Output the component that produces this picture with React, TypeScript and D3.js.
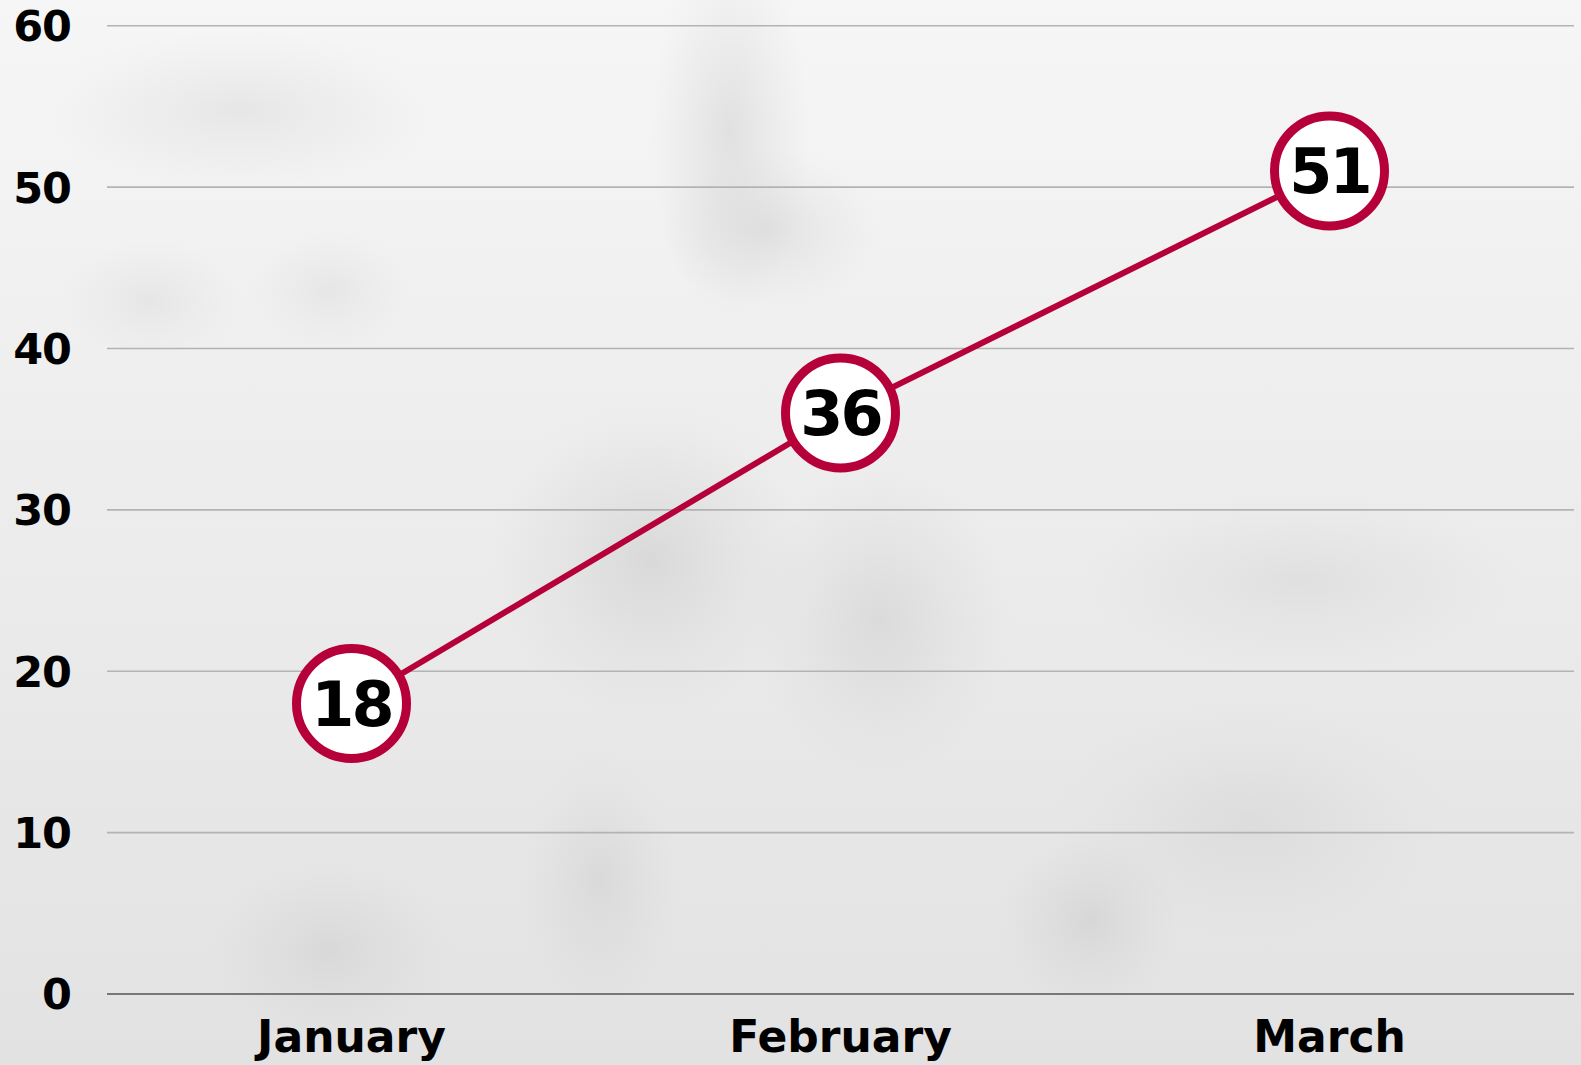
import React from 'react';
import * as d3 from 'd3';

const months = ['January', 'February', 'March'];
const values = [18, 36, 51];
const yTicks = [0, 10, 20, 30, 40, 50, 60];

// soft blotches behind the chart (cx, cy, rx, ry, strength)
const blobs: [number, number, number, number, number][] = [
  [240, 110, 200, 80, 0.25],
  [730, 130, 80, 190, 0.35],
  [770, 230, 110, 80, 0.3],
  [650, 560, 160, 160, 0.4],
  [880, 620, 130, 160, 0.35],
  [330, 950, 120, 90, 0.3],
  [600, 880, 80, 130, 0.3],
  [1090, 920, 90, 90, 0.35],
  [1300, 580, 220, 90, 0.25],
  [1250, 820, 200, 120, 0.25],
  [150, 300, 90, 60, 0.2],
  [330, 290, 80, 60, 0.2],
];

const W = 1581;
const H = 1065;
const red = '#b5003a';

const App = () => {
  const x = d3.scalePoint<string>().domain(months).range([107, 1574]).padding(0.5);
  const y = d3.scaleLinear().domain([0, 60]).range([994, 25.7]);
  const line = d3
    .line<number>()
    .x((d, i) => x(months[i]) as number)
    .y((d) => y(d));
  const font = "'DejaVu Sans', sans-serif";

  return (
    <svg
      width={W}
      height={H}
      style={{ display: 'block', position: 'fixed', top: 0, left: 0 }}
    >
      <defs>
        <linearGradient id="bg" x1="0" y1="0" x2="0" y2="1">
          <stop offset="0" stopColor="#f6f6f6" />
          <stop offset="0.5" stopColor="#ececec" />
          <stop offset="1" stopColor="#e2e2e2" />
        </linearGradient>
        <radialGradient id="blob">
          <stop offset="0" stopColor="#bdbdbd" stopOpacity={1} />
          <stop offset="0.5" stopColor="#c4c4c4" stopOpacity={0.5} />
          <stop offset="1" stopColor="#cccccc" stopOpacity={0} />
        </radialGradient>
      </defs>
      <rect width={W} height={H} fill="url(#bg)" />
      {blobs.map((b, i) => (
        <ellipse key={i} cx={b[0]} cy={b[1]} rx={b[2]} ry={b[3]} fill="url(#blob)" opacity={b[4]} />
      ))}

      {yTicks.map((t) => (
        <g key={t}>
          <line
            x1={107}
            x2={1574}
            y1={y(t)}
            y2={y(t)}
            stroke={t === 0 ? '#555' : '#b3b3b3'}
            strokeWidth={1.6}
          />
          <text
            x={71}
            y={y(t)}
            dy="0.36em"
            textAnchor="end"
            fontFamily={font}
            fontWeight="bold"
            fontSize={43}
            letterSpacing={-1}
            fill="#000"
          >
            {t}
          </text>
        </g>
      ))}

      {months.map((m) => (
        <text
          key={m}
          x={x(m)}
          y={1052}
          textAnchor="middle"
          fontFamily={font}
          fontWeight="bold"
          fontSize={44}
          fill="#000"
        >
          {m}
        </text>
      ))}

      <path d={line(values) || ''} fill="none" stroke={red} strokeWidth={6} />

      {values.map((v, i) => (
        <g key={i} transform={`translate(${x(months[i])},${y(v)})`}>
          <circle r={55} fill="#fff" stroke={red} strokeWidth={9} />
          <text
            textAnchor="middle"
            dy="0.36em"
            fontFamily={font}
            fontWeight="bold"
            fontSize={62}
            letterSpacing={-3}
            fill="#000"
          >
            {v}
          </text>
        </g>
      ))}
    </svg>
  );
};

export default App;
